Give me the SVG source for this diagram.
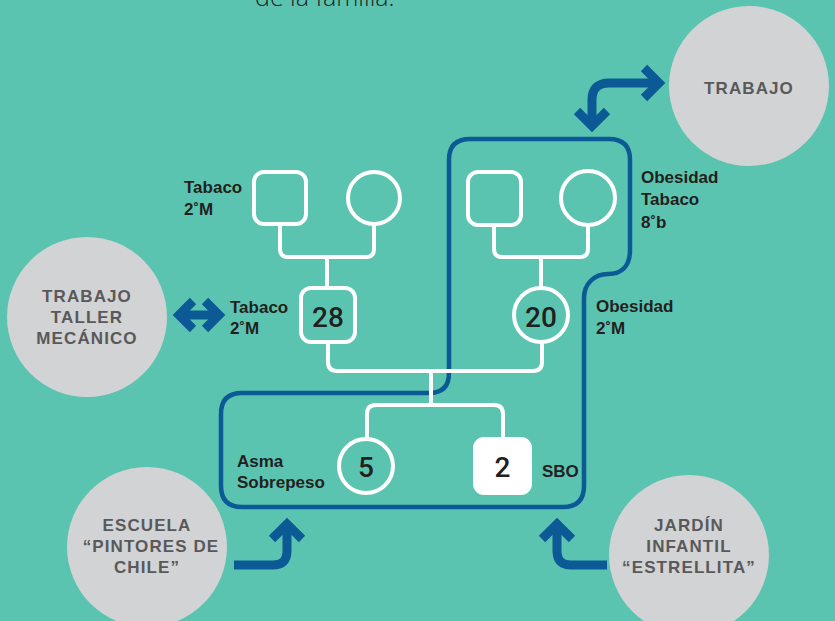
<svg xmlns="http://www.w3.org/2000/svg" width="835" height="621" viewBox="0 0 835 621">
<style>
.w{fill:none;stroke:#fff;stroke-width:4;stroke-linecap:round;stroke-linejoin:round}
.b{fill:none;stroke:#0B5A95;stroke-width:9;stroke-linejoin:miter}
.ext{fill:#D1D3D4}
.et{font-family:"Liberation Sans",Arial,sans-serif;font-weight:bold;font-size:17px;letter-spacing:1.1px;fill:#59595B;text-anchor:middle}
.lb{font-family:"Liberation Sans",Arial,sans-serif;font-weight:bold;font-size:17px;fill:#231F20}
.num{font-family:Roboto,"Liberation Sans",sans-serif;font-weight:500;font-size:28px;fill:#231F20;text-anchor:middle}
</style>
<rect width="835" height="621" fill="#5BC4B1"/>
<text x="255" y="6" font-family="'Open Sans',sans-serif" font-weight="300" font-size="25" fill="#231F20">de la familia.</text>

<g id="household">
<path d="M449 160 Q449 139 470 139 L609 139 Q630 139 630 160 L630 250 C630 266 622 274 608 274 C594 274 584 284 584 298 L584 486 Q584 507 563 507 L242 507 Q221 507 221 486 L221 414 Q221 393 242 393 L429 393 Q449 393 449 373 Z" fill="none" stroke="#0B5A95" stroke-width="4.5"/>
</g>

<g id="connectors">
<path class="w" d="M280 224 L280 249 Q280 257 288 257 L366 257 Q374 257 374 249 L374 224 M327 257 L327 288"/>
<path class="w" d="M494 225 L494 249 Q494 257 502 257 L580 257 Q588 257 588 249 L588 225 M541 257 L541 288"/>
<path class="w" d="M328 342 L328 362 Q328 371 337 371 L533 371 Q542 371 542 362 L542 342 M431 371 L431 405"/>
<path class="w" d="M367 439 L367 414 Q367 405 376 405 L494 405 Q503 405 503 414 L503 438"/>
<path class="b" d="M181 315 L216 315" stroke-width="8"/>
<path class="b" d="M193 301 L179 315 L193 329 M205 301 L219 315 L205 329" stroke-width="10"/>
<path class="b" d="M592 124 L592 100 Q592 83 609 83 L658 83"/>
<path class="b" d="M577 111 L592 126 L607 111 M644 68 L659 83 L644 98"/>
<path class="b" d="M234 565 L273 565 Q287 565 287 551 L287 523"/>
<path class="b" d="M272 539 L287 524 L302 539"/>
<path class="b" d="M607 565 L571 565 Q557 565 557 551 L557 523"/>
<path class="b" d="M542 539 L557 524 L572 539"/>
</g>

<g id="father-left"><rect x="254" y="172" width="52" height="52" rx="10" class="w"/></g>
<g id="mother-left"><circle cx="374" cy="198" r="26" class="w"/></g>
<g id="father-right"><rect x="468" y="172" width="53" height="53" rx="10" class="w"/></g>
<g id="mother-right"><circle cx="588" cy="198" r="27" class="w"/></g>
<g id="father"><rect x="301" y="288" width="54" height="54" rx="10" class="w"/><text class="num" x="328" y="327">28</text></g>
<g id="mother"><circle cx="541" cy="315" r="27" class="w"/><text class="num" x="541" y="327">20</text></g>
<g id="child-5"><circle cx="366" cy="466" r="27" class="w"/><text class="num" x="366" y="477">5</text></g>
<g id="child-2"><rect x="474" y="438" width="57" height="56" rx="10" fill="#fff" stroke="#fff" stroke-width="2"/><text class="num" x="502.5" y="477">2</text></g>

<g id="labels">
<text class="lb" x="184" y="193">Tabaco</text>
<text class="lb" x="184" y="215">2˚M</text>
<text class="lb" x="230" y="313">Tabaco</text>
<text class="lb" x="230" y="334">2˚M</text>
<text class="lb" x="641" y="183">Obesidad</text>
<text class="lb" x="641" y="205">Tabaco</text>
<text class="lb" x="641" y="228">8˚b</text>
<text class="lb" x="596" y="312">Obesidad</text>
<text class="lb" x="596" y="334">2˚M</text>
<text class="lb" x="237" y="467">Asma</text>
<text class="lb" x="237" y="488">Sobrepeso</text>
<text class="lb" x="542" y="477">SBO</text>
</g>

<g id="trabajo"><circle class="ext" cx="749" cy="86" r="80"/><text class="et" x="749" y="94">TRABAJO</text></g>
<g id="taller"><circle class="ext" cx="87" cy="317" r="80"/><text class="et" x="87" y="302">TRABAJO</text><text class="et" x="87" y="323">TALLER</text><text class="et" x="87" y="344">MECÁNICO</text></g>
<g id="escuela"><circle class="ext" cx="147" cy="547" r="80"/><text class="et" x="147" y="531">ESCUELA</text><text class="et" x="151" y="552">“PINTORES DE</text><text class="et" x="147" y="573">CHILE”</text></g>
<g id="jardin"><circle class="ext" cx="689" cy="555" r="80"/><text class="et" x="689" y="531">JARDÍN</text><text class="et" x="689" y="552">INFANTIL</text><text class="et" x="689" y="573">“ESTRELLITA”</text></g>
</svg>
